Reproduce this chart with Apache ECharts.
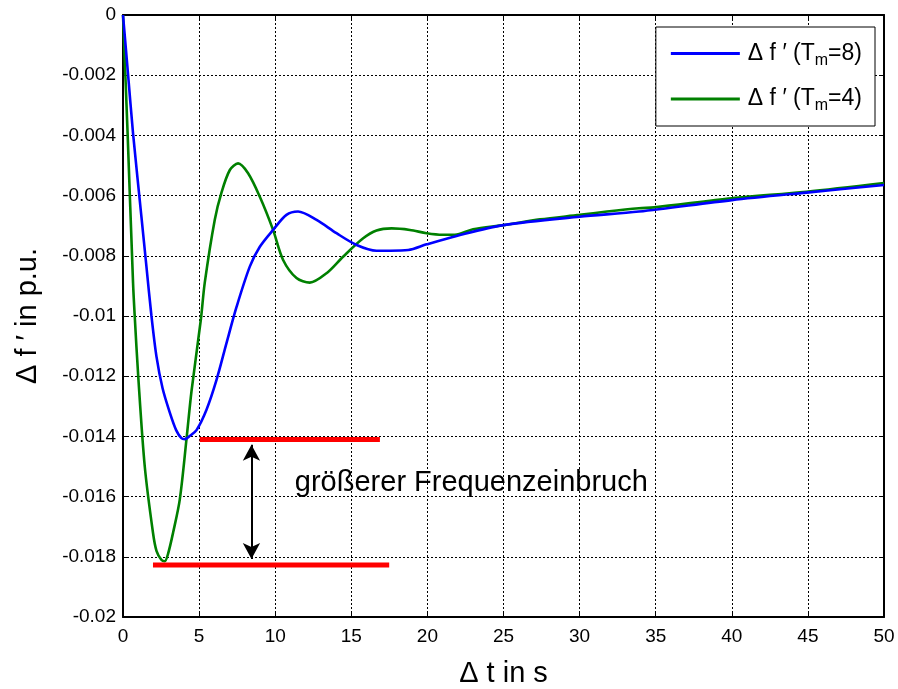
<!DOCTYPE html>
<html>
<head>
<meta charset="utf-8">
<script src="https://cdn.jsdelivr.net/npm/echarts@6/dist/echarts.min.js"></script>
<style>
html,body{margin:0;padding:0;background:#fff;}
#chart{width:898px;height:689px;}
</style>
</head>
<body>
<div id="chart"></div>
<script>
// ---- data ----
const xTicks = [0, 5, 10, 15, 20, 25, 30, 35, 40, 45, 50];
const yTicks = [0, -0.002, -0.004, -0.006, -0.008, -0.01, -0.012, -0.014, -0.016, -0.018, -0.02];

const seriesNames = ['Δ f ′ (Tm=8)', 'Δ f ′ (Tm=4)'];
const xName = 'Δ t in s';
const yName = 'Δ f ′ in p.u.';

const tBlue = [0, 0.33, 0.66, 1.21, 1.54, 1.87, 2.2, 2.6, 3.07, 3.5, 3.84, 4.06, 4.4, 4.83, 5.48, 6.14, 6.8, 7.46, 8.33, 8.99, 9.86, 10.74, 11.5, 12.72, 14.03, 15.35, 16.66, 17.54, 18.74, 19.95, 21.92, 25.0, 30.0, 33.9, 40.0, 44.9, 50];
const vBlue = [0, -0.00196, -0.00393, -0.0067, -0.00836, -0.0100, -0.01135, -0.0124, -0.0132, -0.0138, -0.01406, -0.01409, -0.01398, -0.01379, -0.01312, -0.01213, -0.0109, -0.0097, -0.00836, -0.0077, -0.00714, -0.00664, -0.00653, -0.00681, -0.00725, -0.00764, -0.00783, -0.00783, -0.00781, -0.00762, -0.00734, -0.00698, -0.0067, -0.00653, -0.00615, -0.0059, -0.00565];

const tGreen = [0, 0.3, 0.66, 0.77, 1.0, 1.43, 1.97, 2.2, 2.52, 2.74, 2.96, 3.29, 3.73, 4.17, 4.5, 5.12, 5.37, 6.03, 6.47, 7.02, 7.56, 8.22, 8.99, 9.86, 10.52, 11.4, 12.27, 13.37, 14.46, 15.78, 16.66, 17.65, 18.85, 19.95, 21.0, 21.8, 23.0, 25.0, 27.4, 30.0, 31.8, 33.9, 34.9, 40.0, 44.9, 50];
const vGreen = [0, -0.0039, -0.0089, -0.0100, -0.0120, -0.0150, -0.0172, -0.0178, -0.0181, -0.01815, -0.0179, -0.0172, -0.0161, -0.0141, -0.0125, -0.0101, -0.0089, -0.0068, -0.0059, -0.00515, -0.00493, -0.00526, -0.00604, -0.00714, -0.00814, -0.00874, -0.00889, -0.00858, -0.00803, -0.00742, -0.00716, -0.00709, -0.00714, -0.00725, -0.0073, -0.0073, -0.00712, -0.00698, -0.00679, -0.00664, -0.00653, -0.00642, -0.00639, -0.00609, -0.00587, -0.00558];

// annotation
const redUpperT = [5.04, 16.88];
const redUpperV = [-0.0141, -0.0141];
const redLowerT = [1.97, 17.49];
const redLowerV = [-0.01827, -0.01827];
const arrowT = 8.44;
const arrowV = [-0.01428, -0.01807];
const noteText = 'größerer Frequenzeinbruch';
const notePos = [11.29, -0.01555];

// ---- chart ----
const FONT = '"Liberation Sans", Arial, Helvetica, sans-serif';
const zip = (a, b) => a.map((x, i) => [x, b[i]]);
const fmt = v => String(Number(v.toPrecision(6)));

const chart = echarts.init(document.getElementById('chart'), null, {renderer: 'canvas'});

const axisCommonX = {
  type: 'value', min: xTicks[0], max: xTicks[xTicks.length - 1], interval: 5
};
const axisCommonY = {
  type: 'value', min: yTicks[yTicks.length - 1], max: yTicks[0], interval: 0.002
};

chart.setOption({
  animation: false,
  backgroundColor: '#ffffff',
  grid: {left: 123, right: 14, top: 15, bottom: 72, containLabel: false, outerBoundsMode: 'none'},
  legend: {
    show: true,
    data: seriesNames,
    orient: 'vertical',
    right: 23,
    top: 27,
    padding: [15, 13, 12, 15],
    itemWidth: 69,
    itemHeight: 3,
    itemGap: 19,
    icon: 'rect',
    backgroundColor: '#ffffff',
    borderColor: '#000000',
    borderWidth: 1,
    borderRadius: 0,
    formatter: function (name) {
      const m = name.match(/^(.*)\(Tm=(\d)\)$/);
      return '{a|' + m[1] + '(T}{s|m}{a|=' + m[2] + ')}';
    },
    textStyle: {
      padding: [0, 0, 0, 3],
      rich: {
        a: {fontSize: 23, fontFamily: FONT, color: '#000', lineHeight: 30, verticalAlign: 'middle'},
        s: {fontSize: 16, fontFamily: FONT, color: '#000', lineHeight: 14, verticalAlign: 'bottom'}
      }
    }
  },
  xAxis: [
    Object.assign({}, axisCommonX, {
      position: 'bottom',
      name: xName,
      nameLocation: 'middle',
      nameGap: 42,
      nameTextStyle: {fontSize: 29, fontFamily: FONT, color: '#000'},
      axisLine: {show: true, onZero: false, lineStyle: {color: '#000', width: 2}},
      axisTick: {show: true, inside: true, length: 5, lineStyle: {color: '#000', width: 1}},
      axisLabel: {show: true, margin: 10, fontSize: 19, fontFamily: FONT, color: '#000', formatter: fmt},
      splitLine: {show: true, lineStyle: {color: '#000', width: 1, type: [2, 2]}}
    }),
    Object.assign({}, axisCommonX, {
      position: 'top',
      axisLine: {show: true, onZero: false, lineStyle: {color: '#000', width: 2}},
      axisTick: {show: true, inside: true, length: 5, lineStyle: {color: '#000', width: 1}},
      axisLabel: {show: false},
      splitLine: {show: false}
    })
  ],
  yAxis: [
    Object.assign({}, axisCommonY, {
      position: 'left',
      name: yName,
      nameLocation: 'middle',
      nameRotate: 90,
      nameGap: 81,
      nameTextStyle: {fontSize: 29, fontFamily: FONT, color: '#000'},
      axisLine: {show: true, onZero: false, lineStyle: {color: '#000', width: 2}},
      axisTick: {show: true, inside: true, length: 5, lineStyle: {color: '#000', width: 1}},
      axisLabel: {show: true, margin: 7, fontSize: 19, fontFamily: FONT, color: '#000', formatter: fmt},
      splitLine: {show: true, lineStyle: {color: '#000', width: 1, type: [2, 2]}}
    }),
    Object.assign({}, axisCommonY, {
      position: 'right',
      axisLine: {show: true, onZero: false, lineStyle: {color: '#000', width: 2}},
      axisTick: {show: true, inside: true, length: 5, lineStyle: {color: '#000', width: 1}},
      axisLabel: {show: false},
      splitLine: {show: false}
    })
  ],
  series: [
    {
      name: seriesNames[0], type: 'line', showSymbol: false, symbol: 'none', smooth: 0.3,
      data: zip(tBlue, vBlue), z: 4,
      lineStyle: {color: '#0000ff', width: 2.6}, itemStyle: {color: '#0000ff'}
    },
    {
      name: seriesNames[1], type: 'line', showSymbol: false, symbol: 'none', smooth: 0.3,
      data: zip(tGreen, vGreen), z: 3,
      lineStyle: {color: '#008000', width: 2.6}, itemStyle: {color: '#008000'}
    },
    {
      name: 'redUpper', type: 'line', symbol: 'none', silent: true, z: 5,
      data: zip(redUpperT, redUpperV),
      lineStyle: {color: '#ff0000', width: 5, cap: 'butt'}
    },
    {
      name: 'redLower', type: 'line', symbol: 'none', silent: true, z: 5,
      data: zip(redLowerT, redLowerV),
      lineStyle: {color: '#ff0000', width: 5, cap: 'butt'}
    },
    {
      name: 'note', type: 'scatter', silent: true, z: 6,
      symbolSize: 0, itemStyle: {color: '#000000', opacity: 1},
      data: [notePos],
      labelLayout: {hideOverlap: false},
      label: {show: true, position: 'right', distance: 0, formatter: noteText,
              fontSize: 29, fontFamily: FONT, color: '#000000', opacity: 1,
              textBorderWidth: 0},
      markLine: {
        silent: true,
        symbol: ['arrow', 'arrow'],
        symbolSize: [13, 16],
        label: {show: false},
        lineStyle: {color: '#000', width: 2, type: 'solid'},
        itemStyle: {color: '#000'},
        data: [[{coord: [arrowT, arrowV[0]]}, {coord: [arrowT, arrowV[1]]}]]
      }
    }
  ]
});
</script>
</body>
</html>
